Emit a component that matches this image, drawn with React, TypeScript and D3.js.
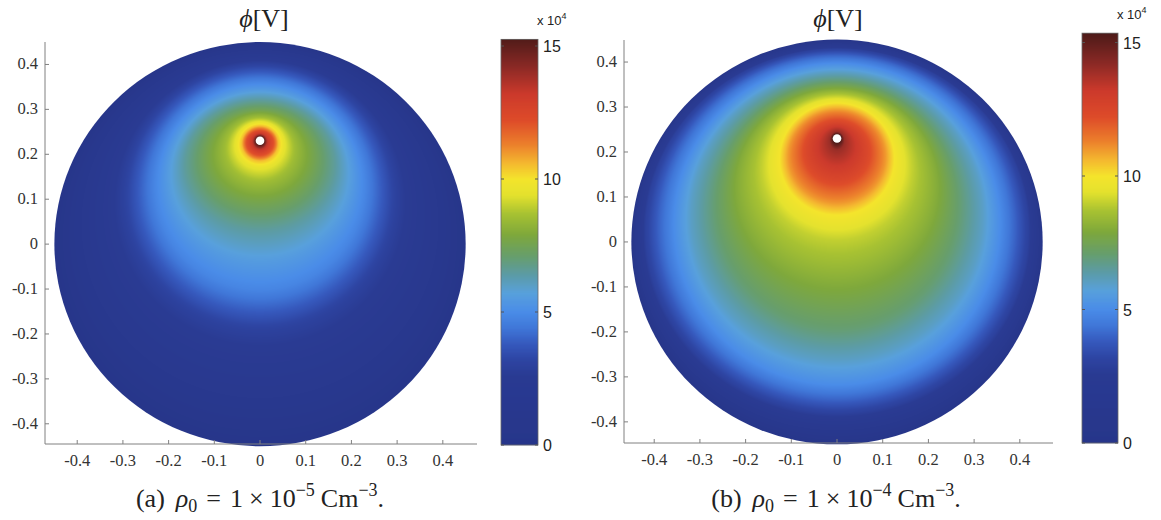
import React, { useMemo } from "react";
import * as d3 from "d3";

const W = 1161;
const H = 520;

// Domain geometry: a grounded circular wall and a small emitter held at high potential
const DISK_R = 0.45;
const EMITTER_X = 0;
const EMITTER_Y = 0.23;
const EMITTER_R = 0.0095;

// Equipotential levels (×10^4 V), innermost first. Each level is an ellipse centred on x = 0,
// described by its top and bottom crossings of the vertical axis and its half-width (m).
const levelsA = [15.2, 13.5, 12, 10.5, 9.5, 8.5, 7.5, 6.5, 5.5, 4.8, 4, 3, 2, 1, 0];
const topA = [0.2395, 0.2451, 0.254, 0.2631, 0.272, 0.283, 0.2985, 0.3208, 0.343, 0.361, 0.379, 0.401, 0.421, 0.4365, 0.45];
const bottomA = [0.2205, 0.2117, 0.1962, 0.1851, 0.1695, 0.138, 0.087, 0.0315, -0.04, -0.102, -0.142, -0.191, -0.28, -0.369, -0.45];
const halfWidthA = [0.0095, 0.0154, 0.031, 0.04, 0.053, 0.077, 0.121, 0.165, 0.202, 0.231, 0.26, 0.297, 0.352, 0.407, 0.45];

const levelsB = [15.4, 14, 12.5, 11, 10, 9, 8, 7, 6, 5, 4, 3, 1.5, 0];
const topB = [0.2395, 0.245, 0.2665, 0.2932, 0.3088, 0.3244, 0.34, 0.3577, 0.3777, 0.3977, 0.4154, 0.4288, 0.44, 0.45];
const bottomB = [0.2205, 0.205, 0.1376, 0.0865, 0.0598, 0.0042, -0.0958, -0.1958, -0.2625, -0.318, -0.3513, -0.3802, -0.4136, -0.45];
const halfWidthB = [0.0095, 0.016, 0.066, 0.106, 0.1255, 0.165, 0.22, 0.269, 0.319, 0.357, 0.39, 0.4185, 0.44, 0.45];

// Axis and colorbar ticks
const axisTicks = [-0.4, -0.3, -0.2, -0.1, 0, 0.1, 0.2, 0.3, 0.4];
const cbarTicks = [0, 5, 10, 15];

// Softened jet colormap (values in ×10^4 V)
const jetStops = [0, 2.6, 3.2, 3.8, 4.4, 5.0, 5.7, 6.4, 7.1, 7.9, 8.7, 9.4, 10.0, 10.6, 11.3, 12.2, 13.2, 14.2, 15.4];
const jetColors = [
  "#27368a", "#2a3b93", "#2e45a3", "#3659bd", "#4077d8", "#4a8ce8", "#58a0dc", "#5c9ca6",
  "#679e6c", "#7ea83c", "#a8c232", "#e4e22e", "#f4e42c", "#f4b830", "#ec802c", "#de4c2a",
  "#cc3a2c", "#8c2a26", "#4a1a18",
];

const SERIF = "'Liberation Serif', 'DejaVu Serif', serif";
const SANS = "'Liberation Sans', Arial, sans-serif";

type Panel = {
  key: string;
  xRange: [number, number];
  xDomain: [number, number];
  yRange: [number, number];
  yDomain: [number, number];
  levels: number[];
  top: number[];
  bottom: number[];
  halfWidth: number[];
  cbarX: number;
  cbarW: number;
  cbarY0: number;
  cbarY15: number;
  cbarMax: number;
  titleX: number;
  captionX: number;
  exponent: string;
};

const panels: Panel[] = [
  {
    key: "a",
    xRange: [45, 477],
    xDomain: [-0.4705, 0.4748],
    yRange: [444, 42],
    yDomain: [-0.445, 0.45],
    levels: levelsA,
    top: topA,
    bottom: bottomA,
    halfWidth: halfWidthA,
    cbarX: 501,
    cbarW: 37,
    cbarY0: 445,
    cbarY15: 46,
    cbarMax: 15.25,
    titleX: 264,
    captionX: 260,
    exponent: "\u22125",
  },
  {
    key: "b",
    xRange: [624, 1053],
    xDomain: [-0.4661, 0.4726],
    yRange: [443, 40],
    yDomain: [-0.447, 0.449],
    levels: levelsB,
    top: topB,
    bottom: bottomB,
    halfWidth: halfWidthB,
    cbarX: 1082,
    cbarW: 36,
    cbarY0: 443,
    cbarY15: 42.5,
    cbarMax: 15.35,
    titleX: 838,
    captionX: 836,
    exponent: "\u22124",
  },
];

const colorScale = d3
  .scaleLinear<string>()
  .domain(jetStops)
  .range(jetColors)
  .interpolate(d3.interpolateRgb)
  .clamp(true);

// Lookup table for fast per-pixel colouring
const LUT_N = 2048;
const LUT_MAX = 15.4;
const lut: [number, number, number][] = d3.range(LUT_N).map((i) => {
  const c = d3.rgb(colorScale((i / (LUT_N - 1)) * LUT_MAX));
  return [c.r, c.g, c.b];
});

// Potential at (px, py): locate the pair of nested level ellipses that bracket the point and
// blend their levels by the point's radial distance to each of them.
function makeField(p: Panel) {
  const n = p.levels.length;
  const cy = p.top.map((t, i) => (t + p.bottom[i]) / 2);
  const ry = p.top.map((t, i) => (t - p.bottom[i]) / 2);
  const rx = p.halfWidth;
  const signedDist = (i: number, px: number, py: number) => {
    const dx = px;
    const dy = py - cy[i];
    const g = Math.sqrt((dx * dx) / (rx[i] * rx[i]) + (dy * dy) / (ry[i] * ry[i]));
    const r = Math.hypot(dx, dy);
    if (g === 0) return -Math.min(rx[i], ry[i]);
    return r * (1 - 1 / g);
  };
  return (px: number, py: number) => {
    let prev = signedDist(0, px, py);
    if (prev <= 0) return p.levels[0];
    for (let i = 1; i < n; i++) {
      const cur = signedDist(i, px, py);
      if (cur <= 0) {
        const t = prev / (prev - cur);
        return p.levels[i - 1] + t * (p.levels[i] - p.levels[i - 1]);
      }
      prev = cur;
    }
    return NaN;
  };
}

function renderField(p: Panel) {
  const x = d3.scaleLinear().domain(p.xDomain).range(p.xRange);
  const y = d3.scaleLinear().domain(p.yDomain).range(p.yRange);
  const field = makeField(p);
  const left = Math.floor(x(-DISK_R)) - 2;
  const right = Math.ceil(x(DISK_R)) + 2;
  const top = Math.floor(y(DISK_R)) - 2;
  const bottom = Math.ceil(y(-DISK_R)) + 2;
  const w = right - left;
  const h = bottom - top;
  const canvas = document.createElement("canvas");
  canvas.width = w;
  canvas.height = h;
  const ctx = canvas.getContext("2d")!;
  const img = ctx.createImageData(w, h);
  for (let j = 0; j < h; j++) {
    const dy = y.invert(top + j + 0.5);
    for (let i = 0; i < w; i++) {
      const dx = x.invert(left + i + 0.5);
      const k = (j * w + i) * 4;
      let v = field(dx, dy);
      if (Number.isNaN(v)) {
        // just outside the wall: extend the outermost colour under the anti-aliased clip edge
        v = 0;
      }
      const idx = Math.max(0, Math.min(LUT_N - 1, Math.round((v / LUT_MAX) * (LUT_N - 1))));
      const c = lut[idx];
      img.data[k] = c[0];
      img.data[k + 1] = c[1];
      img.data[k + 2] = c[2];
      img.data[k + 3] = 255;
    }
  }
  ctx.putImageData(img, 0, 0);
  return { href: canvas.toDataURL(), left, top, w, h };
}

const fmt = (d: number) => (d === 0 ? "0" : d.toFixed(1));

function PanelView({ p }: { p: Panel }) {
  const x = d3.scaleLinear().domain(p.xDomain).range(p.xRange);
  const y = d3.scaleLinear().domain(p.yDomain).range(p.yRange);
  const field = useMemo(() => renderField(p), [p]);
  const cy = d3.scaleLinear().domain([0, 15]).range([p.cbarY0, p.cbarY15]);
  const cbarTop = cy(p.cbarMax);
  const steps = d3.range(0, Math.ceil(p.cbarY0 - cbarTop));
  const clipId = `disk-${p.key}`;
  const axisColor = "#808080";
  const textColor = "#333";
  return (
    <g>
      <defs>
        <clipPath id={clipId}>
          <ellipse cx={x(0)} cy={y(0)} rx={x(DISK_R) - x(0)} ry={y(0) - y(DISK_R)} />
        </clipPath>
      </defs>
      <image
        href={field.href}
        x={field.left}
        y={field.top}
        width={field.w}
        height={field.h}
        clipPath={`url(#${clipId})`}
        preserveAspectRatio="none"
      />
      <ellipse
        cx={x(EMITTER_X)}
        cy={y(EMITTER_Y)}
        rx={x(EMITTER_R) - x(0)}
        ry={y(0) - y(EMITTER_R)}
        fill="#fff"
      />
      {/* axes */}
      <line x1={p.xRange[0]} x2={p.xRange[1]} y1={p.yRange[0]} y2={p.yRange[0]} stroke={axisColor} strokeWidth={1} />
      <line x1={p.xRange[0]} x2={p.xRange[0]} y1={p.yRange[0]} y2={p.yRange[1]} stroke={axisColor} strokeWidth={1} />
      {axisTicks.map((t) => (
        <g key={`x${t}`}>
          <line x1={x(t)} x2={x(t)} y1={p.yRange[0]} y2={p.yRange[0] - 4} stroke={axisColor} />
          <text x={x(t)} y={p.yRange[0] + 22} textAnchor="middle" fontFamily={SERIF} fontSize={16.5} fill={textColor}>
            {fmt(t)}
          </text>
        </g>
      ))}
      {axisTicks.map((t) => (
        <g key={`y${t}`}>
          <line x1={p.xRange[0]} x2={p.xRange[0] + 4} y1={y(t)} y2={y(t)} stroke={axisColor} />
          <text x={p.xRange[0] - 7} y={y(t) + 5} textAnchor="end" fontFamily={SERIF} fontSize={16.5} fill={textColor}>
            {fmt(t)}
          </text>
        </g>
      ))}
      {/* colorbar */}
      {steps.map((i) => {
        const yy = p.cbarY0 - i - 1;
        const v = cy.invert(yy + 0.5);
        return (
          <rect key={i} x={p.cbarX} y={yy} width={p.cbarW} height={1.2} fill={colorScale(Math.min(v, p.cbarMax))} />
        );
      })}
      <rect
        x={p.cbarX}
        y={cbarTop}
        width={p.cbarW}
        height={p.cbarY0 - cbarTop}
        fill="none"
        stroke="#6a6a6a"
        strokeWidth={0.8}
      />
      {cbarTicks.map((t) => (
        <g key={`c${t}`}>
          <line x1={p.cbarX} x2={p.cbarX + 3} y1={cy(t)} y2={cy(t)} stroke="#555" />
          <line x1={p.cbarX + p.cbarW - 3} x2={p.cbarX + p.cbarW} y1={cy(t)} y2={cy(t)} stroke="#555" />
          <text x={p.cbarX + p.cbarW + 5} y={cy(t) + 6} fontFamily={SANS} fontSize={16} fill="#222">
            {t}
          </text>
        </g>
      ))}
      <text x={p.cbarX + p.cbarW - 1} y={cbarTop - 14} fontFamily={SANS} fontSize={13} fill="#222">
        x 10
        <tspan dy={-6} fontSize={9}>
          4
        </tspan>
      </text>
      {/* title */}
      <text x={p.titleX} y={27} textAnchor="middle" fontFamily={SERIF} fontSize={26} fill="#222">
        <tspan fontStyle="italic">{"\u03d5"}</tspan>[V]
      </text>
      {/* caption, with math spacing around the relation and operator */}
      <text x={p.captionX} y={507} textAnchor="middle" fontFamily={SERIF} fontSize={26} fill="#222">
        <tspan>({p.key})</tspan>
        <tspan dx={11} fontStyle="italic">{"\u03c1"}</tspan>
        <tspan dy={5} fontSize={18}>0</tspan>
        <tspan dx={9} dy={-5}>=</tspan>
        <tspan dx={9}>1</tspan>
        <tspan dx={6}>{"\u00d7"}</tspan>
        <tspan dx={6}>10</tspan>
        <tspan dy={-11} fontSize={18}>{p.exponent}</tspan>
        <tspan dx={6} dy={11}>Cm</tspan>
        <tspan dy={-11} fontSize={18}>{"\u22123"}</tspan>
        <tspan dy={11}>.</tspan>
      </text>
    </g>
  );
}

export default function App() {
  return (
    <svg
      width={W}
      height={H}
      viewBox={`0 0 ${W} ${H}`}
      style={{ display: "block", position: "absolute", left: 0, top: 0, background: "#fff" }}
    >
      <rect width={W} height={H} fill="#fff" />
      {panels.map((p) => (
        <PanelView key={p.key} p={p} />
      ))}
    </svg>
  );
}
